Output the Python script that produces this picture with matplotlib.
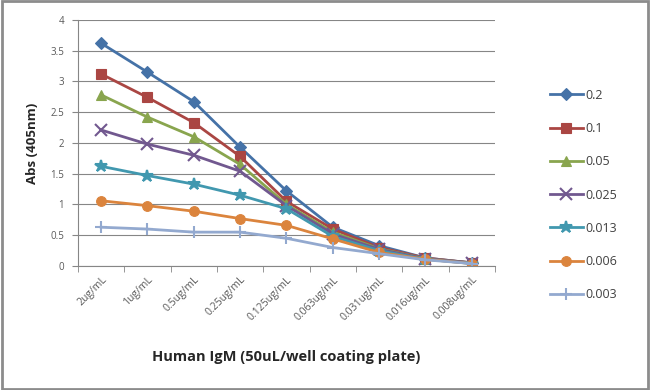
import matplotlib
matplotlib.use("Agg")
import matplotlib.pyplot as plt
import numpy as np

plt.rcParams["font.family"] = ["Open Sans", "DejaVu Sans"]

# Data
categories = ["2ug/mL", "1ug/mL", "0.5ug/mL", "0.25ug/mL", "0.125ug/mL",
              "0.063ug/mL", "0.031ug/mL", "0.016ug/mL", "0.008ug/mL"]
series_names = ["0.2", "0.1", "0.05", "0.025", "0.013", "0.006", "0.003"]
s_02 = [3.62, 3.15, 2.67, 1.93, 1.22, 0.63, 0.33, 0.13, 0.05]
s_01 = [3.12, 2.74, 2.33, 1.78, 1.05, 0.60, 0.30, 0.13, 0.05]
s_005 = [2.78, 2.42, 2.10, 1.65, 1.00, 0.55, 0.28, 0.12, 0.05]
s_0025 = [2.21, 1.98, 1.80, 1.54, 0.98, 0.52, 0.27, 0.12, 0.05]
s_0013 = [1.62, 1.47, 1.33, 1.15, 0.93, 0.48, 0.25, 0.11, 0.04]
s_0006 = [1.06, 0.98, 0.89, 0.77, 0.66, 0.44, 0.22, 0.11, 0.04]
s_0003 = [0.63, 0.60, 0.55, 0.55, 0.45, 0.30, 0.20, 0.10, 0.04]
values = [s_02, s_01, s_005, s_0025, s_0013, s_0006, s_0003]

colors = ["#4572A7", "#AA4643", "#89A54E", "#71588F", "#4198AF", "#DB843D", "#93A9CF"]
markers = ["D", "s", "^", "x", "*", "o", "+"]
msizes = [6, 7, 7, 8, 9, 7, 9]

fig = plt.figure(figsize=(6.5, 3.9), dpi=100)
ax = fig.add_axes([0.12, 0.318, 0.6415, 0.631])

x = np.arange(len(categories))
for name, vals, c, m, ms in zip(series_names, values, colors, markers, msizes):
    ax.plot(x, vals, color=c, marker=m, markersize=ms, linewidth=2,
            markeredgewidth=1.5 if m in ("x", "+", "*") else 0.8,
            label=name)

ax.set_ylim(0, 4)
ax.set_yticks(np.arange(0, 4.01, 0.5))
ax.set_yticklabels(["0", "0.5", "1", "1.5", "2", "2.5", "3", "3.5", "4"])
ax.set_xlim(-0.5, len(categories) - 0.5)
ax.set_xticks(x)
ax.set_xticklabels(categories, rotation=45, ha="right", rotation_mode="anchor")
ax.set_xticks(np.arange(-0.5, len(categories), 1), minor=True)
ax.tick_params(axis="x", which="major", length=0, labelsize=7.5, colors="#595959", pad=6)
ax.tick_params(axis="x", which="minor", length=4, color="#868686")
ax.tick_params(axis="y", length=4, color="#868686", labelsize=7, labelcolor="#595959", pad=6)
ax.grid(axis="y", color="#868686", linewidth=0.8)
ax.set_axisbelow(True)
for side in ("top", "right"):
    ax.spines[side].set_visible(False)
for side in ("left", "bottom"):
    ax.spines[side].set_color("#868686")

ax.set_ylabel("Abs (405nm)", fontsize=9.5, fontweight="bold", color="#262626", labelpad=8)
ax.set_xlabel("Human IgM (50uL/well coating plate)", fontsize=10.5,
              fontweight="bold", color="#262626", labelpad=20)

ax.legend(loc="center left", bbox_to_anchor=(1.105, 0.288), frameon=False,
          fontsize=9, labelspacing=1.62, handlelength=2.6, handletextpad=0.2,
          labelcolor="#404040")

fig.patches.append(plt.Rectangle((0.003, 0.003), 0.994, 0.994, transform=fig.transFigure,
                                 fill=False, edgecolor="#8c8c8c", linewidth=2))

fig.savefig("out.png", dpi=100)
